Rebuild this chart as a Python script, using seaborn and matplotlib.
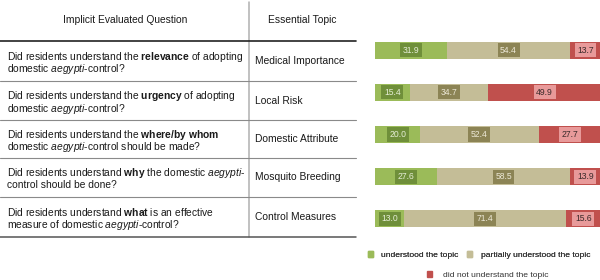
import pandas as pd
import matplotlib
matplotlib.use("Agg")
import matplotlib.pyplot as plt
import seaborn as sns
from matplotlib.patches import Patch

topics = ["Medical Importance", "Local Risk", "Domestic Attribute",
          "Mosquito Breeding", "Control Measures"]
questions = [
    [r"Did residents understand the $\bf{relevance}$ of adopting", r"domestic $\it{aegypti}$-control?"],
    [r"Did residents understand the $\bf{urgency}$ of adopting", r"domestic $\it{aegypti}$-control?"],
    [r"Did residents understand the $\bf{where/by\ whom}$", r"domestic $\it{aegypti}$-control should be made?"],
    [r"Did residents understand $\bf{why}$ the domestic $\it{aegypti}$-", r"control should be done?"],
    [r"Did residents understand $\bf{what}$ is an effective", r"measure of domestic $\it{aegypti}$-control?"],
]
understood = [31.9, 15.4, 20.0, 27.6, 13.0]
partial = [54.4, 34.7, 52.4, 58.5, 71.4]
not_understood = [13.7, 49.9, 27.7, 13.9, 15.6]
legend_labels = ["understood the topic", "partially understood the topic",
                 "did not understand the topic"]

GREEN, BEIGE, RED = "#9bbb59", "#c4bd97", "#c0504d"
BOX = {"g": ("#6f8f3a", "#e6eed6"), "b": ("#8c8455", "#ece8d6"), "r": ("#e89a9a", "#3a2a2a")}

sns.set_style("white")
plt.rcParams["font.family"] = ["Liberation Sans", "DejaVu Sans"]
plt.rcParams["mathtext.fontset"] = "custom"
plt.rcParams["mathtext.rm"] = "Liberation Sans"
plt.rcParams["mathtext.it"] = "Liberation Sans:italic"
plt.rcParams["mathtext.bf"] = "Liberation Sans:bold"

fig = plt.figure(figsize=(6, 2.8), dpi=100)

# table, drawn in pixel coordinates
tab = fig.add_axes([0, 0, 1, 1])
tab.set_xlim(0, 600)
tab.set_ylim(280, 0)
tab.axis("off")
txt = "#1a1a1a"
fs = 7.4
tab.text(125, 20, "Implicit Evaluated Question", ha="center", va="center", fontsize=fs, color=txt)
tab.text(302, 20, "Essential Topic", ha="center", va="center", fontsize=fs, color=txt)
bounds = [41, 81, 120, 158, 197, 237]
tab.plot([249, 249], [2, 237], color="#b0b0b0", lw=1.1)
tab.plot([0, 356], [41, 41], color="#222222", lw=1.2)
for yb in bounds[1:-1]:
    tab.plot([0, 356], [yb, yb], color="#8a8a8a", lw=0.8)
tab.plot([0, 356], [237, 237], color="#555555", lw=1.1)
for i in range(5):
    rc = (bounds[i] + bounds[i + 1]) / 2
    tab.text(7, rc - 1.5, questions[i][0], ha="left", va="baseline", fontsize=fs, color=txt)
    tab.text(7, rc + 11, questions[i][1], ha="left", va="baseline", fontsize=fs, color=txt)
    tab.text(255, rc, topics[i], ha="left", va="center", fontsize=fs, color=txt)

# stacked bars
ax = fig.add_axes([375 / 600, 1 - 240 / 280, 226 / 600, 211 / 280])
df = pd.DataFrame({"topic": topics, "g": understood, "b": partial, "r": not_understood})
df["c1"] = df["g"]
df["c2"] = df["g"] + df["b"]
df["c3"] = df["c2"] + df["r"]
for col, color in [("c3", RED), ("c2", BEIGE), ("c1", GREEN)]:
    sns.barplot(data=df, x=col, y="topic", orient="h", color=color, width=0.40,
                saturation=1, ax=ax, linewidth=0)
for i, row in df.iterrows():
    starts = [0, row["c1"], row["c2"]]
    for key, s in zip(["g", "b", "r"], starts):
        v = row[key]
        fc, tc = BOX[key]
        ax.text(s + v / 2, i, f"{v:.1f}", ha="center", va="center", fontsize=6.2, color=tc,
                bbox=dict(boxstyle="square,pad=0.3", fc=fc, ec="none"))
ax.set_xlim(0, 100)
ax.set_ylim(4.5, -0.5)
ax.axis("off")

# legend
lfs = 6.1
h = [Patch(color=c) for c in (GREEN, BEIGE, RED)]
leg1 = fig.legend(h[:2], legend_labels[:2], loc="center", bbox_to_anchor=(479 / 600, 1 - 255 / 280),
                  ncol=2, frameon=False, fontsize=lfs, handlelength=0.6, handleheight=0.75,
                  handletextpad=1.0, columnspacing=1.05, labelcolor="#333333",
                  borderpad=0, borderaxespad=0)
leg2 = fig.legend(h[2:], legend_labels[2:], loc="center", bbox_to_anchor=(488 / 600, 1 - 275 / 280),
                  frameon=False, fontsize=lfs, handlelength=0.6, handleheight=0.75,
                  handletextpad=1.3, labelcolor="#333333", borderpad=0, borderaxespad=0)
fig.add_artist(leg1)

fig.savefig("out.png", dpi=100)
